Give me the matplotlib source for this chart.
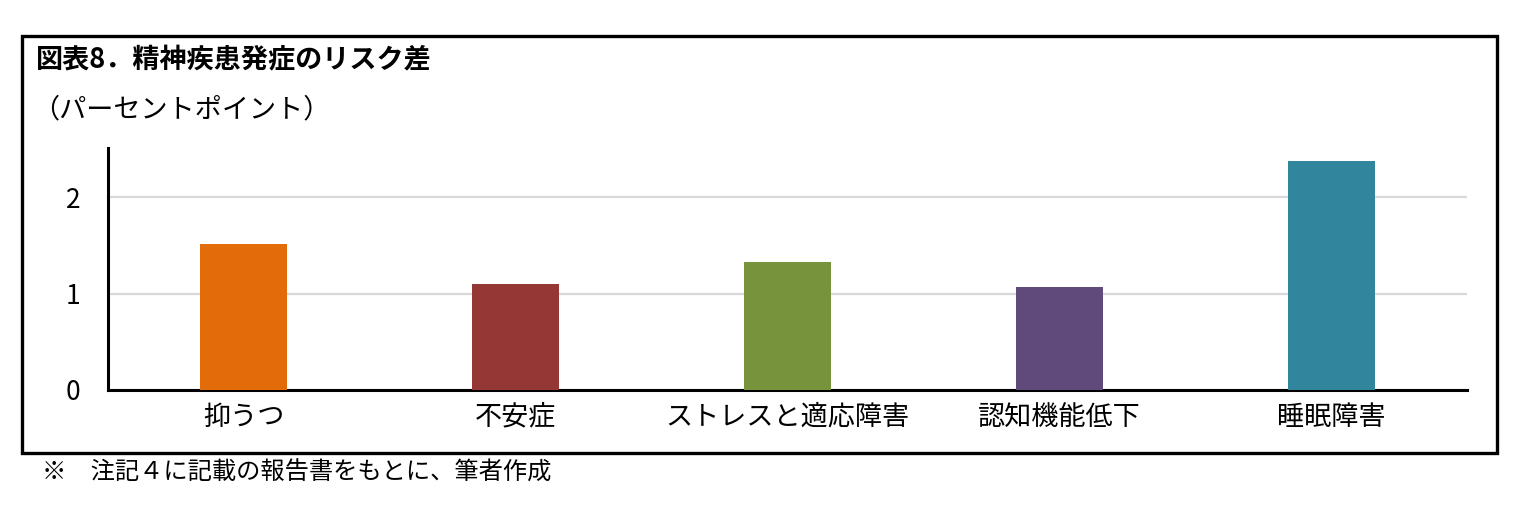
import numpy as np
import matplotlib
matplotlib.use("Agg")
import matplotlib.pyplot as plt
from matplotlib.patches import Rectangle

plt.rcParams['font.family'] = ['Noto Sans CJK JP', 'DejaVu Sans']

# data
categories = ["抑うつ", "不安症", "ストレスと適応障害", "認知機能低下", "睡眠障害"]
values = [1.51, 1.10, 1.33, 1.07, 2.38]
colors = ["#E36C0A", "#953735", "#77933C", "#604A7B", "#31859C"]
yticks = [0, 1, 2]

title = "図表8．精神疾患発症のリスク差"
unit = "（パーセントポイント）"
note = "※　注記４に記載の報告書をもとに、筆者作成"

W, H = 1521, 508
fig = plt.figure(figsize=(W / 100, H / 100), dpi=100)

# outer frame
fig.patches.append(Rectangle((22 / W, 1 - 453 / H), (1497 - 22) / W, (453 - 36) / H,
                             transform=fig.transFigure, fill=False, lw=2.4,
                             edgecolor="black"))

ax = fig.add_axes([108 / W, 1 - 390 / H, (1467 - 108) / W, (390 - 148) / H])
x = np.arange(len(categories))
ax.bar(x, values, width=0.32, color=colors, zorder=3)
ax.set_xlim(-0.5, len(categories) - 0.5)
ax.set_ylim(0, 2.51)
ax.set_yticks(yticks)
ax.set_yticklabels([str(t) for t in yticks], fontsize=19)
ax.set_xticks(x)
ax.set_xticklabels(categories, fontsize=19.5)
ax.tick_params(axis="both", length=0)
ax.tick_params(axis="y", pad=20)
ax.tick_params(axis="x", pad=10)
for t in yticks[1:]:
    ax.axhline(t, color="#d9d9d9", lw=1.6, zorder=1)
for s in ["top", "right"]:
    ax.spines[s].set_visible(False)
ax.spines["left"].set_linewidth(2.2)
ax.spines["bottom"].set_linewidth(2.2)

fig.text(36 / W, 1 - 60 / H, title, fontsize=19.5, fontweight="bold", va="center", ha="left")
fig.text(32 / W, 1 - 110 / H, unit, fontsize=19.5, va="center", ha="left")
fig.text(42 / W, 1 - 473 / H, note, fontsize=17.5, va="center", ha="left")

fig.savefig("out.png", dpi=100)
